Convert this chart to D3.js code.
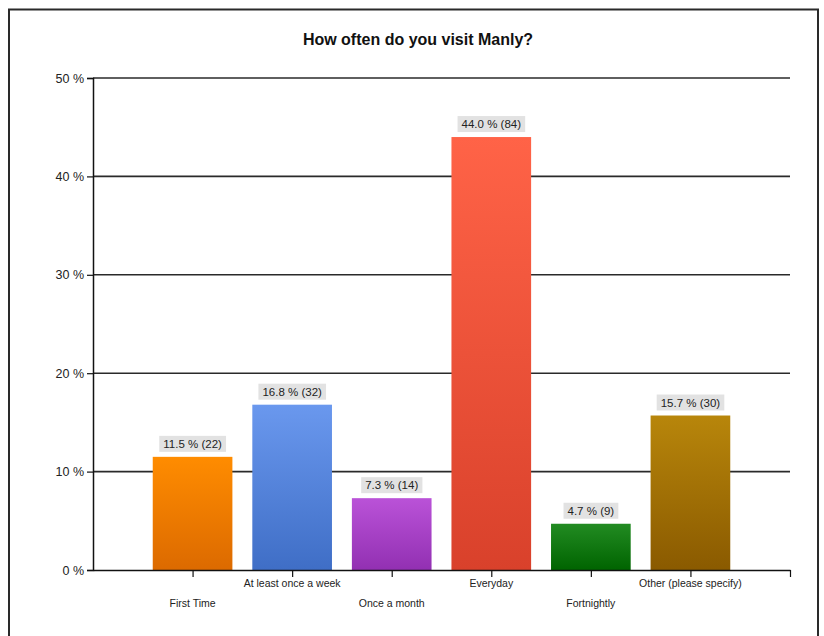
<!DOCTYPE html>
<html>
<head>
<meta charset="utf-8">
<script src="https://cdn.jsdelivr.net/npm/d3@7"></script>
<style>
  html, body { margin: 0; padding: 0; background: #fff; }
  svg { display: block; }
</style>
</head>
<body>
<svg id="chart" width="824" height="636"></svg>
<script>
// Survey responses: share of respondents and count per answer
const categories = ["First Time", "At least once a week", "Once a month", "Everyday", "Fortnightly", "Other (please specify)"];
const percents = [11.5, 16.8, 7.3, 44.0, 4.7, 15.7];
const counts = [22, 32, 14, 84, 9, 30];
const yTicks = [0, 10, 20, 30, 40, 50];
const colorsTop = ["#ff8c00", "#6a98ee", "#ba52d8", "#ff6347", "#228b22", "#b8860b"];
const colorsBottom = ["#dc6a00", "#3f6ec6", "#9230b2", "#d9412b", "#006400", "#8a5a00"];

const svg = d3.select("#chart");
const plot = { left: 93, right: 790, top: 78, bottom: 570 };

// Outer frame
svg.append("rect")
  .attr("x", 9).attr("y", 9.5).attr("width", 809).attr("height", 640)
  .attr("fill", "none").attr("stroke", "#2a2a2a").attr("stroke-width", 2);

// Title
svg.append("text")
  .attr("x", 418).attr("y", 45)
  .attr("text-anchor", "middle")
  .style("font-family", "Liberation Sans, Arial, sans-serif")
  .style("font-weight", "bold").style("font-size", "16px")
  .attr("fill", "#111")
  .text("How often do you visit Manly?");

// Scales: categories sit at positions 1..n on a 0..n+1 axis
const x = d3.scaleLinear().domain([0, categories.length + 1]).range([plot.left, plot.right]);
const y = d3.scaleLinear().domain([0, 50]).range([plot.bottom, plot.top]);
const unit = x(1) - x(0);
const barW = unit * 0.8;

// Gradients for the bars
const defs = svg.append("defs");
categories.forEach((c, i) => {
  const g = defs.append("linearGradient").attr("id", "g" + i)
    .attr("x1", 0).attr("y1", 0).attr("x2", 0).attr("y2", 1);
  g.append("stop").attr("offset", "0%").attr("stop-color", colorsTop[i]);
  g.append("stop").attr("offset", "100%").attr("stop-color", colorsBottom[i]);
});

// Horizontal gridlines
svg.append("g").selectAll("line").data(yTicks.filter(d => d > 0)).join("line")
  .attr("x1", plot.left).attr("x2", plot.right)
  .attr("y1", d => y(d)).attr("y2", d => y(d))
  .attr("stroke", "#2a2a2a").attr("stroke-width", 1.6);

// Y axis
const yAxis = d3.axisLeft(y).tickValues(yTicks).tickFormat(d => d + " %").tickSize(6).tickPadding(3);
const gy = svg.append("g").attr("transform", `translate(${plot.left},0)`).call(yAxis);
gy.select(".domain").attr("stroke", "#111").attr("stroke-width", 1.5);
gy.selectAll(".tick line").attr("stroke", "#111").attr("stroke-width", 1.2);
gy.selectAll(".tick text")
  .style("font-family", "Liberation Sans, Arial, sans-serif")
  .style("font-size", "12.5px").attr("fill", "#222");

// Bars
svg.append("g").selectAll("rect").data(percents).join("rect")
  .attr("x", (d, i) => x(i + 1) - barW / 2)
  .attr("y", d => y(d))
  .attr("width", barW)
  .attr("height", d => y(0) - y(d))
  .attr("fill", (d, i) => `url(#g${i})`);

// X axis
const xAxis = d3.axisBottom(x)
  .tickValues(d3.range(1, categories.length + 2))
  .tickFormat("").tickSize(7).tickSizeOuter(0);
const gx = svg.append("g").attr("transform", `translate(0,${plot.bottom})`).call(xAxis);
gx.select(".domain").attr("stroke", "#111").attr("stroke-width", 1.5);
gx.selectAll(".tick line").attr("stroke", "#111").attr("stroke-width", 1.2);

// Staggered category labels
svg.append("g").selectAll("text").data(categories).join("text")
  .attr("x", (d, i) => x(i + 1))
  .attr("y", (d, i) => i % 2 === 0 ? 607 : 587)
  .attr("text-anchor", "middle")
  .style("font-family", "Liberation Sans, Arial, sans-serif")
  .style("font-size", "10.5px").attr("fill", "#222")
  .text(d => d);

// Value labels with grey backgrounds
const lab = svg.append("g").selectAll("g").data(percents).join("g")
  .attr("transform", (d, i) => `translate(${x(i + 1)},${y(d) - 13})`);
lab.append("text")
  .attr("text-anchor", "middle").attr("dy", "0.35em")
  .style("font-family", "Liberation Sans, Arial, sans-serif")
  .style("font-size", "11.5px").attr("fill", "#222")
  .text((d, i) => `${d.toFixed(1)} % (${counts[i]})`);
lab.each(function () {
  const g = d3.select(this);
  const bb = g.select("text").node().getBBox();
  g.insert("rect", "text")
    .attr("x", bb.x - 4).attr("y", -8)
    .attr("width", bb.width + 8).attr("height", 16)
    .attr("fill", "#e2e2e2");
});
</script>
</body>
</html>
